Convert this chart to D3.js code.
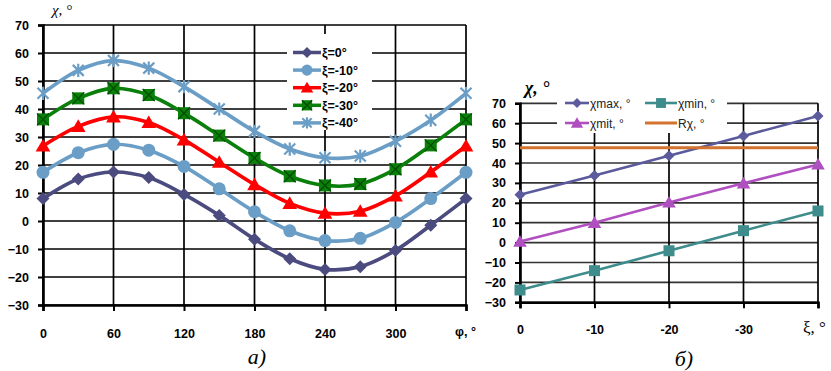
<!DOCTYPE html>
<html><head><meta charset="utf-8">
<script src="https://cdn.jsdelivr.net/npm/d3@7"></script>
<style>
body{margin:0;background:#fff;}
svg{display:block;}
.tick text{font-family:"Liberation Sans",Arial,sans-serif;font-weight:bold;font-size:12.5px;fill:#000;}
</style></head>
<body><svg id="c" width="831" height="371"></svg>
<script>
// ---------- DATA ----------
const phi = [0,30,60,90,120,150,180,210,240,270,300,330,360];
const phiTicks = [0,60,120,180,240,300];
const xi0   = [8,15,17.5,15.5,9.5,2,-6.5,-13.5,-17.3,-16.3,-10.5,-1.5,8];
const xi10  = [17.4,24.4,27.4,25.3,19.5,11.5,3.3,-3.5,-7,-6.2,-0.5,8,17.4];
const xi20  = [26.8,33.8,37.2,35.2,29,21,13,6.3,2.8,3.5,9,17.5,26.8];
const xi30  = [36.3,43.8,47.4,45,38.5,30.5,22.5,16,12.7,13.2,18.5,27,36.3];
const xi40  = [45.6,53.8,57.3,54.6,48,40,32,25.7,22.6,23.2,28.5,36,45.6];
const seriesNamesL = ["ξ=0°","ξ=-10°","ξ=-20°","ξ=-30°","ξ=-40°"];
const yTicksL = [-30,-20,-10,0,10,20,30,40,50,60,70];

const xiCats = [0,-10,-20,-30,-40];
const chiMax = [24,33.7,43.6,53.6,63.6];
const chiMin = [-23.8,-14.1,-4.1,6,15.9];
const chiMit = [0.5,10,20.2,29.8,39.3];
const rChi   = [47.7,47.7,47.7,47.7,47.7];
const seriesNamesR = ["χmax, °","χmin, °","χmit, °","Rχ, °"];
const yTicksR = [-30,-20,-10,0,10,20,30,40,50,60,70];

// ---------- DRAW ----------
const svg = d3.select("#c");

function grid(g, x, y, xTicks, yTicks, hcol) {
  const [x0,x1] = x.range(), [y0,y1] = y.range();
  g.append("g").selectAll("line").data(yTicks).join("line")
    .attr("x1",x0).attr("x2",x1).attr("y1",d=>y(d)).attr("y2",d=>y(d))
    .attr("stroke",hcol).attr("stroke-width",1.7);
  g.append("g").selectAll("line").data(xTicks.concat([x.domain()[1]])).join("line")
    .attr("x1",d=>x(d)).attr("x2",d=>x(d)).attr("y1",y0).attr("y2",y1)
    .attr("stroke","#000").attr("stroke-width",1.7);
}

// ===== LEFT CHART =====
const xL = d3.scaleLinear().domain([0,360]).range([43,466]);
const yL = d3.scaleLinear().domain([-30,70]).range([305,25]);
const gL = svg.append("g");
grid(gL, xL, yL, phiTicks, yTicksL, "#000");

const legL = svg.append("g");

const axL = gL.append("g").attr("transform",`translate(${xL(0)},0)`)
  .call(d3.axisLeft(yL).tickValues(yTicksL).tickSize(5).tickPadding(9).tickFormat(d3.format("d")));
axL.select(".domain").attr("stroke-width",2.6);
axL.selectAll(".tick line").attr("stroke-width",2);
const axLb = gL.append("g").attr("transform",`translate(0,${yL(-30)})`)
  .call(d3.axisBottom(xL).tickValues(phiTicks.concat([360])).tickSize(6).tickPadding(18)
        .tickFormat(d=> d===360 ? "" : d));
axLb.select(".domain").attr("stroke-width",2.6);
axLb.selectAll(".tick line").attr("stroke-width",2);
svg.append("text").attr("x",455).attr("y",336).text("φ, °")
  .attr("font-family","Liberation Sans,Arial,sans-serif").attr("font-weight","bold").attr("font-size",12.5);

const lineL = d3.line().x((d,i)=>xL(phi[i])).y(d=>yL(d)).curve(d3.curveCatmullRom.alpha(0.5));

const colNavy="#4b4b7f", colSky="#6b9ec6", colRed="#ff0000", colGreen="#0a800a", colGreenD="#004d00";

function drawMarker(g, type, cx, cy, col, s) {
  if (type==="diamond") {
    g.append("path").attr("d",`M${cx},${cy-s}L${cx+s},${cy}L${cx},${cy+s}L${cx-s},${cy}Z`).attr("fill",col);
  } else if (type==="circle") {
    g.append("circle").attr("cx",cx).attr("cy",cy).attr("r",s).attr("fill",col);
  } else if (type==="triangle") {
    g.append("path").attr("d",`M${cx},${cy-s}L${cx+s*1.05},${cy+s*0.8}L${cx-s*1.05},${cy+s*0.8}Z`).attr("fill",col);
  } else if (type==="squareX") {
    g.append("rect").attr("x",cx-s).attr("y",cy-s).attr("width",2*s).attr("height",2*s).attr("fill",col);
    g.append("path").attr("d",`M${cx-s},${cy-s}L${cx+s},${cy+s}M${cx-s},${cy+s}L${cx+s},${cy-s}`)
      .attr("stroke",colGreenD).attr("stroke-width",1.3);
  } else if (type==="square") {
    g.append("rect").attr("x",cx-s).attr("y",cy-s).attr("width",2*s).attr("height",2*s).attr("fill",col);
  } else if (type==="star") {
    g.append("path").attr("d",`M${cx-s},${cy-s}L${cx+s},${cy+s}M${cx-s},${cy+s}L${cx+s},${cy-s}M${cx},${cy-s*1.2}L${cx},${cy+s*1.2}`)
      .attr("stroke",col).attr("stroke-width",2.2).attr("fill","none");
  }
}

const seriesL = [
  {v:xi0, c:colNavy, m:"diamond", s:6.5},
  {v:xi10,c:colSky,  m:"circle",  s:6.5},
  {v:xi20,c:colRed,  m:"triangle",s:7},
  {v:xi30,c:colGreen,m:"squareX", s:6},
  {v:xi40,c:colSky,  m:"star",    s:5.5}
];
seriesL.forEach(sr=>{
  gL.append("path").datum(sr.v).attr("d",lineL).attr("fill","none").attr("stroke",sr.c).attr("stroke-width",3.7);
  const mg = gL.append("g");
  sr.v.forEach((d,i)=>drawMarker(mg, sr.m, xL(phi[i]), yL(d), sr.c, sr.s));
});

legL.raise();
legL.append("rect").attr("x",287).attr("y",34).attr("width",85).attr("height",96).attr("fill","#fff");
seriesNamesL.forEach((n,i)=>{
  const yy = 52.5 + i*17.6, sr = seriesL[i];
  legL.append("line").attr("x1",293).attr("x2",321).attr("y1",yy).attr("y2",yy).attr("stroke",sr.c).attr("stroke-width",3.5);
  drawMarker(legL, sr.m, 307, yy, sr.c, sr.s*0.85);
  legL.append("text").attr("x",322).attr("y",yy+4.5).text(n)
    .attr("font-family","Liberation Sans,Arial,sans-serif").attr("font-weight","bold").attr("font-size",12.5);
});

svg.append("text").attr("x",52).attr("y",15).text("χ, °")
  .attr("font-family","Liberation Serif,Times New Roman,serif").attr("font-style","italic").attr("font-size",15);
svg.append("text").attr("x",257).attr("y",364).attr("text-anchor","middle").text("а)")
  .attr("font-family","Liberation Serif,Times New Roman,serif").attr("font-style","italic").attr("font-size",22);

// ===== RIGHT CHART =====
const xR = d3.scaleLinear().domain([0,-40]).range([520,818]);
const yR = d3.scaleLinear().domain([-30,70]).range([302.3,103.3]);
const gR = svg.append("g");
grid(gR, xR, yR, [0,-10,-20,-30], yTicksR, "#333");
const axR = gR.append("g").attr("transform",`translate(${xR(0)},0)`)
  .call(d3.axisLeft(yR).tickValues(yTicksR).tickSize(5).tickPadding(9).tickFormat(d3.format("d")));
axR.select(".domain").attr("stroke-width",2.6);
axR.selectAll(".tick line").attr("stroke-width",2);
const axRb = gR.append("g").attr("transform",`translate(0,${yR(-30)})`)
  .call(d3.axisBottom(xR).tickValues(xiCats).tickSize(6).tickPadding(17)
        .tickFormat(d=> d===-40 ? "" : d));
axRb.select(".domain").attr("stroke-width",2.6);
axRb.selectAll(".tick line").attr("stroke-width",2);
svg.append("text").attr("x",803).attr("y",333).text("ξ, °")
  .attr("font-family","Liberation Serif,Times New Roman,serif").attr("font-size",17);

const lineR = d3.line().x((d,i)=>xR(xiCats[i])).y(d=>yR(d));
const colMax="#5a5a9c", colMin="#3e8c8c", colMit="#b04fc0", colR="#d2732f";
const seriesR = [
  {v:chiMax,c:colMax,m:"diamond", s:5.5},
  {v:chiMin,c:colMin,m:"square",  s:5.5},
  {v:chiMit,c:colMit,m:"triangle",s:6.5},
  {v:rChi,  c:colR,  m:null,      s:0}
];
seriesR.forEach(sr=>{
  gR.append("path").datum(sr.v).attr("d",lineR).attr("fill","none").attr("stroke",sr.c).attr("stroke-width",sr.m?2.6:3);
  if (sr.m) { const mg=gR.append("g"); sr.v.forEach((d,i)=>drawMarker(mg, sr.m, xR(xiCats[i]), yR(d), sr.c, sr.s)); }
});
const legR = svg.append("g");
legR.append("rect").attr("x",557).attr("y",93).attr("width",170).attr("height",40).attr("fill","#fff");
const legPos = [[565,103],[645,103],[565,123],[645,123]];
seriesNamesR.forEach((n,i)=>{
  const [lx,ly]=legPos[i], sr=seriesR[i];
  legR.append("line").attr("x1",lx).attr("x2",lx+24+(i%2?8:0)).attr("y1",ly).attr("y2",ly).attr("stroke",sr.c).attr("stroke-width",sr.m?2.6:3);
  if (sr.m) drawMarker(legR, sr.m, lx+12+(i%2?4:0), ly, sr.c, sr.s*0.9);
  legR.append("text").attr("x",lx+25+(i%2?8:0)).attr("y",ly+4.5).text(n)
    .attr("font-family","Liberation Sans,Arial,sans-serif").attr("font-size",12).attr("fill","#222");
});
svg.append("text").attr("x",525).attr("y",94).text("χ, °")
  .attr("font-family","Liberation Serif,Times New Roman,serif").attr("font-style","italic").attr("font-weight","bold").attr("font-size",18);
svg.append("text").attr("x",684).attr("y",366).attr("text-anchor","middle").text("б)")
  .attr("font-family","Liberation Serif,Times New Roman,serif").attr("font-style","italic").attr("font-size",22);
</script></body></html>
